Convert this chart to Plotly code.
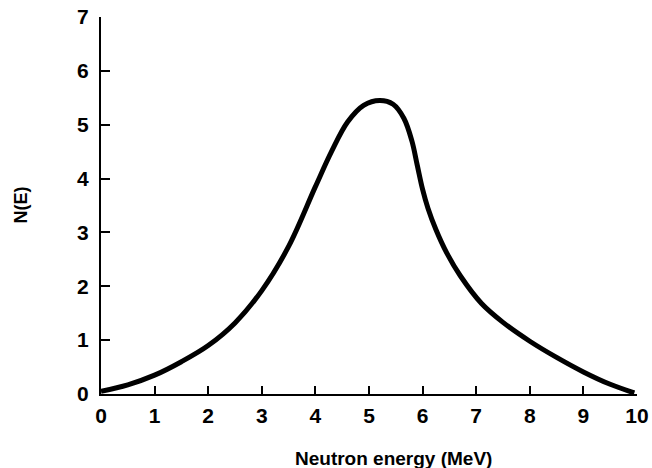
import plotly.graph_objects as go

energy = [0, 0.5, 1, 1.5, 2, 2.5, 3, 3.5, 4, 4.3, 4.6, 4.9, 5.2, 5.45, 5.65,
          5.8, 5.9, 6.0, 6.1, 6.25, 6.45, 6.7, 7.1, 7.5, 8, 8.5, 9, 9.5, 9.95]
counts = [0.05, 0.17, 0.35, 0.6, 0.9, 1.32, 1.92, 2.74, 3.85, 4.5, 5.05, 5.36, 5.45,
          5.38, 5.12, 4.7, 4.25, 3.8, 3.45, 3.05, 2.62, 2.2, 1.68, 1.33, 0.98,
          0.68, 0.41, 0.18, 0.02]
x_ticks = list(range(0, 11))
y_ticks = list(range(0, 8))

FONT = "Liberation Sans"

fig = go.Figure()
fig.add_trace(go.Scatter(x=energy, y=counts, mode="lines",
                         line=dict(color="black", width=5, shape="spline", smoothing=1.0),
                         hoverinfo="skip", showlegend=False, cliponaxis=False))

fig.update_layout(
    width=652, height=468,
    margin=dict(l=101, r=15, t=17, b=74),
    paper_bgcolor="white", plot_bgcolor="white",
    font=dict(family=FONT, color="black"),
    xaxis=dict(range=[0, 10], tickvals=x_ticks, ticktext=[f"<b>{v}</b>" for v in x_ticks],
               showline=True, linecolor="black", linewidth=2, ticks="inside",
               ticklen=8, tickwidth=2, tickcolor="black", showgrid=False, zeroline=False,
               tickfont=dict(size=21, family=FONT), ticklabelstandoff=2,
               ticklabeloverflow="allow", automargin=False, fixedrange=True),
    yaxis=dict(range=[0, 7], tickvals=y_ticks, ticktext=[f"<b>{v}</b>" for v in y_ticks],
               showline=True, linecolor="black", linewidth=2, ticks="inside",
               ticklen=9, tickwidth=2, tickcolor="black", showgrid=False, zeroline=False,
               tickfont=dict(size=21, family=FONT), ticklabelstandoff=6,
               ticklabeloverflow="allow", automargin=False, fixedrange=True),
    annotations=[
        dict(text="<b>Neutron energy (MeV)</b>", xref="paper", yref="paper",
             x=(393 - 101) / 536, y=-(458 - 394) / 377, xanchor="center", yanchor="middle",
             showarrow=False, font=dict(size=19, family=FONT)),
        dict(text="<b>N(E)</b>", xref="paper", yref="paper",
             x=-(101 - 20) / 536, y=0.5, xanchor="center", yanchor="middle",
             textangle=-90, showarrow=False, font=dict(size=18, family=FONT)),
    ],
)

fig.write_html(
    "out.html",
    config={"displayModeBar": False, "staticPlot": True},
    post_script="document.body.style.margin='0';document.body.style.overflow='hidden';",
)
